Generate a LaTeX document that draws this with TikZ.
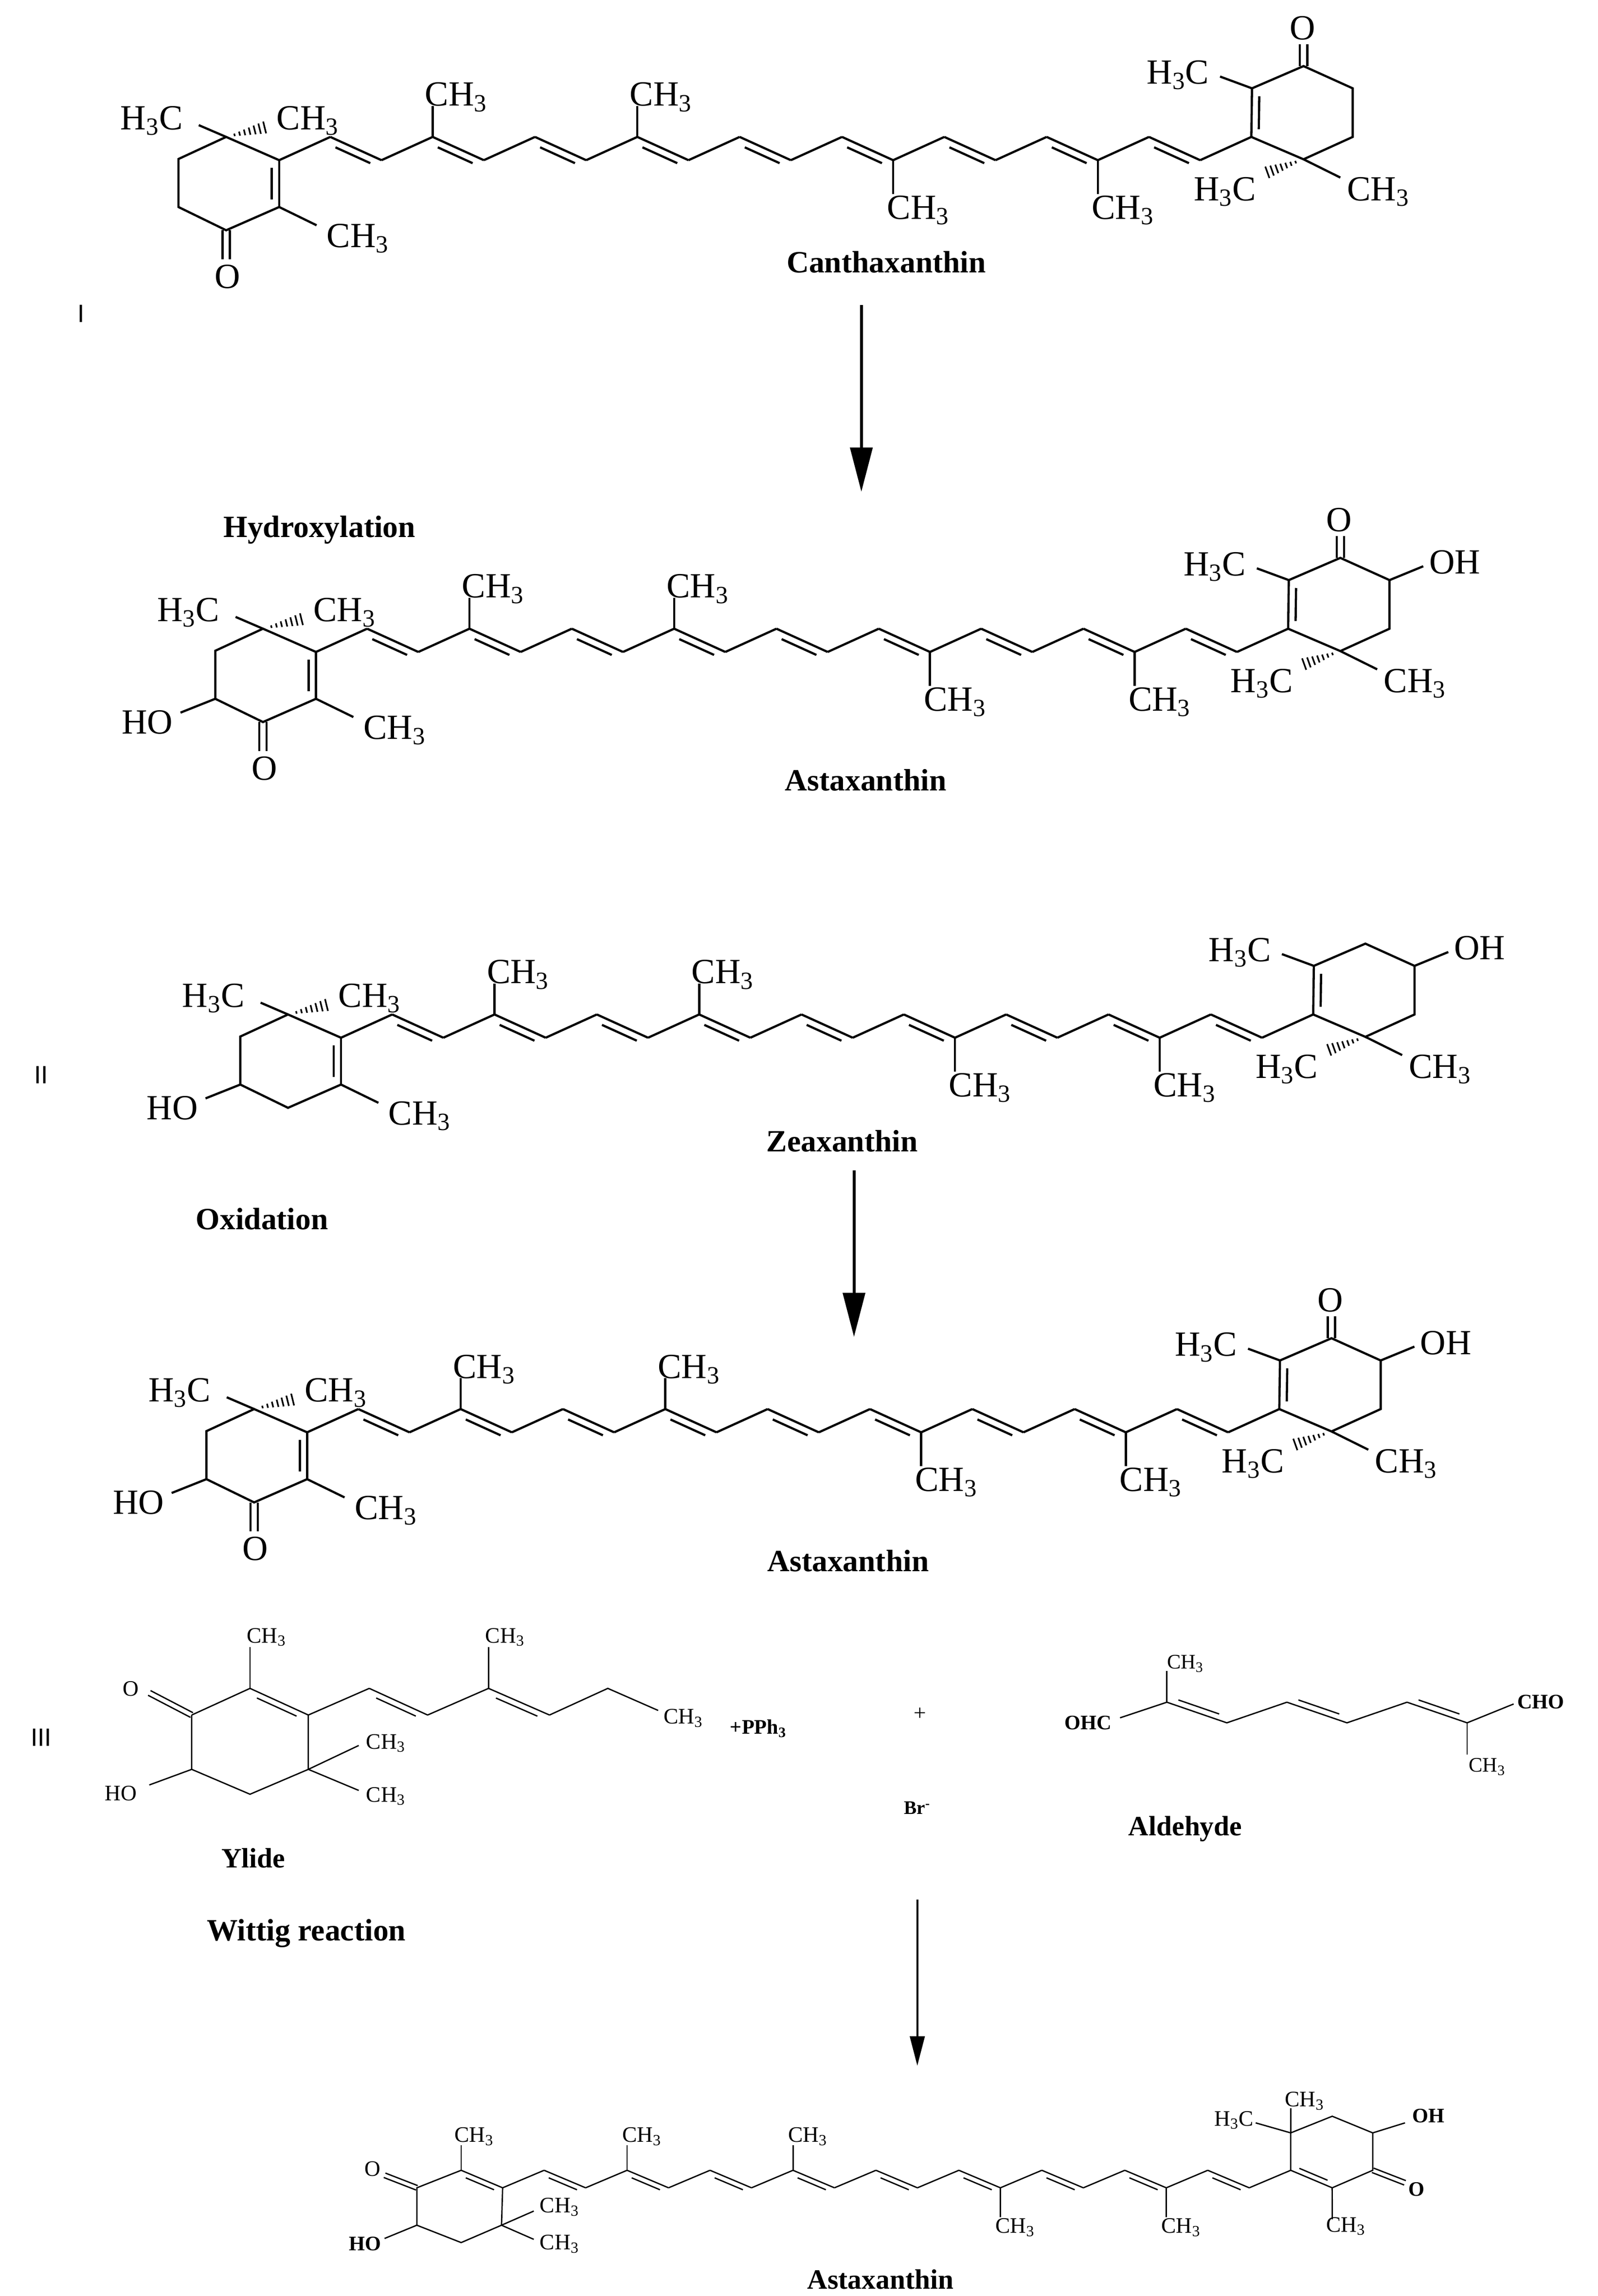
\documentclass[tikz,border=0pt]{standalone}
\usepackage{fontspec}
\setmainfont{Liberation Serif}
\newfontfamily\sansf{Liberation Sans}
\usetikzlibrary{calc,arrows.meta}
\newcommand\chm{CH\textsubscript{3}}
\newcommand\hcm{H\textsubscript{3}C}
% double bond: [side angle]{A}{B}{offset}
\newcommand\dbond[4][-90]{\draw (#2)--(#3); \draw ($(#2)!0.16!(#3)!#4!#1:(#3)$) -- ($(#3)!0.16!(#2)!#4!#1+180:(#2)$);}
\newcommand\hashb[2]{\foreach \t in {0.2,0.32,...,0.96}{\pgfmathsetmacro\hl{4.5*\t}\draw[line width=1.1pt] ($(#1)!\t!(#2)!\hl pt!90:(#2)$) -- ($(#1)!\t!(#2)!\hl pt!-90:(#2)$);}}
\tikzset{
 big/.style={line width=1.5pt},
 small/.style={line width=0.9pt},
 lbl/.style={inner sep=0pt,font=\fontsize{24}{24}\selectfont},
 slbl/.style={inner sep=0pt,font=\fontsize{15}{15}\selectfont},
 mname/.style={inner sep=0pt,font=\fontsize{21}{21}\selectfont\bfseries},
 roman/.style={inner sep=0pt,font=\fontsize{17}{17}\selectfont\sansf},
 rarrow/.style={line width=2pt,-{Triangle[length=30pt,width=15pt]}},
}
% #1 dx #2 dy #3 left keto #4 left OH #5 right keto #6 right OH #7 prefix
\newcommand\bigmol[7]{%
\begin{scope}[shift={(#1,#2)},big]
\coordinate (#7Lq) at (153.6,93); \coordinate (#7Lb) at (189.6,140.6);
\coordinate (#7Lco) at (153.6,156.4); \coordinate (#7Lc) at (121.2,140.6); \coordinate (#7Ld) at (121.2,108);
\foreach \k in {0,...,19}{\pgfmathsetmacro\xx{189.6+34.75*\k}\pgfmathsetmacro\yy{ifthenelse(mod(\k,2)==0,108.8,93)}\coordinate (#7c\k) at (\xx,\yy);}
\coordinate (#7B) at (850.3,60); \coordinate (#7C) at (885.3,44.9); \coordinate (#7D) at (918.7,60);
\coordinate (#7E) at (918.7,93); \coordinate (#7Q) at (885.3,108.2);
% left ring
\draw (#7c0)--(#7Lq)--(#7Ld)--(#7Lc)--(#7Lco)--(#7Lb);
\dbond{#7c0}{#7Lb}{5pt}
\coordinate (#7m1) at (135,85); \draw (#7Lq)--(#7m1); \node[lbl] (#7t1) at (103,82) {\hcm};
\coordinate (#7m2) at (182,86); \hashb{#7Lq}{#7m2}; \node[lbl] (#7t2) at (209,82) {\chm};
\coordinate (#7m3) at (215,153); \draw (#7Lb)--(#7m3); \node[lbl] (#7t3) at (243,162) {\chm};
\ifnum#3=1 \coordinate (#7m4) at (153.6,176); \draw ($(#7Lco)+(-2.5,0)$)--($(#7m4)+(-2.5,0)$) ($(#7Lco)+(2.5,0)$)--($(#7m4)+(2.5,0)$); \node[lbl] (#7t4) at (154.5,188) {O};\fi
\ifnum#4=1 \coordinate (#7m5) at (97.6,150); \draw (#7Lc)--(#7m5); \node[lbl] (#7t5) at (75,156.6) {HO};\fi
% chain
\foreach \k in {0,...,18}{\pgfmathtruncatemacro\n{\k+1}\ifodd\k\relax \dbond{#7c\k}{#7c\n}{5pt}\else\draw (#7c\k)--(#7c\n);\fi}
\foreach \k/\s in {3/a,7/b}{\draw (#7c\k)--++(0,-21); \node[lbl] (#7u\s) at ($(#7c\k)+(16,-27)$) {\chm};}
\foreach \k/\s in {12/a,16/b}{\draw (#7c\k)--++(0,23); \node[lbl] (#7d\s) at ($(#7c\k)+(17,34)$) {\chm};}
% right ring
\draw (#7B)--(#7C)--(#7D)--(#7E)--(#7Q)--(#7c19);
\dbond{#7c19}{#7B}{5pt}
\coordinate (#7m6) at (828.6,52); \draw (#7B)--(#7m6); \node[lbl] (#7t6) at (800,51) {\hcm};
\coordinate (#7m7) at (858.6,117.8); \hashb{#7Q}{#7m7}; \node[lbl] (#7t7) at (831.9,130.2) {\hcm};
\coordinate (#7m8) at (910.3,120.6); \draw (#7Q)--(#7m8); \node[lbl] (#7t8) at (936,130.2) {\chm};
\ifnum#5=1 \coordinate (#7m9) at (885.3,30); \draw ($(#7C)+(-2.5,0)$)--($(#7m9)+(-2.5,0)$) ($(#7C)+(2.5,0)$)--($(#7m9)+(2.5,0)$); \node[lbl] (#7t9) at (884.5,19) {O};\fi
\ifnum#6=1 \coordinate (#7m10) at (941.6,50.6); \draw (#7D)--(#7m10); \node[lbl] (#7t10) at (963,48) {OH};\fi
\end{scope}}
\begin{document}
\begin{tikzpicture}[x=1pt,y=-1pt]
\useasboundingbox[fill=white] (0,0) rectangle (1085,1559.4);
\bigmol{0}{0}{1}{0}{1}{0}{a}
\bigmol{25}{334}{1}{1}{1}{1}{b}
\bigmol{42}{596}{0}{1}{0}{1}{c}
\bigmol{19}{864}{1}{1}{1}{1}{d}
\node[mname] (n1) at (602,178) {Canthaxanthin};
\node[mname] (n2) at (588,530) {Astaxanthin};
\node[mname] (n3) at (572,775) {Zeaxanthin};
\node[mname] (n4) at (576,1060) {Astaxanthin};
\node[roman] (r1) at (55,213) {I};
\node[roman] (r2) at (28,730) {II};
\node[roman] (r3) at (28,1180) {III};
\node[mname] (h1) at (217,360) {Hydroxylation};
\node[mname] (h2) at (178,828) {Oxidation};
\node[mname] (h3) at (208,1313) {Wittig reaction};
\coordinate (a1s) at (585,207); \coordinate (a1e) at (585,334);
\coordinate (a2s) at (580,795); \coordinate (a2e) at (580,908);
\coordinate (a3s) at (623,1290); \coordinate (a3e) at (623,1403);
\draw[rarrow] (a1s)--(a1e);
\draw[rarrow] (a2s)--(a2e);
\draw[line width=1.3pt,-{Triangle[length=20pt,width=10pt]}] (a3s)--(a3e);
% ---- Ylide ----
\begin{scope}[small]
\coordinate (y1) at (130.2,1164.8); \coordinate (y2) at (169.8,1146.7); \coordinate (y3) at (209.4,1164.8);
\coordinate (y4) at (209.4,1201.7); \coordinate (y5) at (169.8,1218.6); \coordinate (y6) at (130.2,1201.7);
\draw (y1)--(y2) (y3)--(y4)--(y5)--(y6)--(y1);
\dbond{y2}{y3}{4pt}
\coordinate (yo) at (101.4,1149.8); \draw ($(y1)!1.8pt!90:(yo)$)--($(yo)!1.8pt!-90:(y1)$) ($(y1)!1.8pt!-90:(yo)$)--($(yo)!1.8pt!90:(y1)$);
\node[slbl] (yO) at (89,1147) {O};
\coordinate (ym1) at (169.8,1118.6); \draw (y2)--(ym1); \node[slbl] (yt1) at (181,1112) {\chm};
\coordinate (ym2) at (243.6,1185.5); \draw (y4)--(ym2); \node[slbl] (yt2) at (262,1184) {\chm};
\coordinate (ym3) at (243.6,1216); \draw (y4)--(ym3); \node[slbl] (yt3) at (262,1220) {\chm};
\coordinate (ym4) at (101.4,1212.3); \draw (y6)--(ym4); \node[slbl] (yt4) at (82,1218) {HO};
\coordinate (y7) at (250.8,1146.7); \coordinate (y8) at (290.4,1164.8); \coordinate (y9) at (331.8,1146.7);
\coordinate (y10) at (373.2,1164.8); \coordinate (y11) at (412.8,1146.7); \coordinate (y12) at (447,1161.7);
\draw (y3)--(y7) (y8)--(y9) (y10)--(y11)--(y12);
\dbond{y7}{y8}{4pt} \dbond{y9}{y10}{4pt}
\coordinate (ym5) at (331.8,1118.6); \draw (y9)--(ym5); \node[slbl] (yt5) at (343,1112) {\chm};
\node[slbl] (yt6) at (464,1167) {\chm};
\node[inner sep=0pt,font=\fontsize{14}{14}\selectfont\bfseries] (pph) at (515,1174) {+PPh\textsubscript{3}};
\end{scope}
\node[mname,font=\fontsize{19}{19}\selectfont\bfseries] (yl) at (172,1262) {Ylide};
\node[inner sep=0pt,font=\fontsize{15}{15}\selectfont] (plus) at (625,1164) {+};
\node[inner sep=0pt,font=\fontsize{13}{13}\selectfont\bfseries] (br) at (623,1228) {Br\textsuperscript{-}};
% ---- Aldehyde ----
\begin{scope}[small]
\coordinate (q1) at (792.5,1156.1); \coordinate (q2) at (833.2,1170.1); \coordinate (q3) at (874,1156.1);
\coordinate (q4) at (914.8,1170.1); \coordinate (q5) at (955.6,1156.1); \coordinate (q6) at (996.4,1170.1);
\dbond[90]{q1}{q2}{4pt} \draw (q2)--(q3); \dbond[90]{q3}{q4}{4pt} \draw (q4)--(q5); \dbond[90]{q5}{q6}{4pt}
\coordinate (qm1) at (792.5,1135); \draw (q1)--(qm1); \node[slbl,font=\fontsize{14}{14}\selectfont] (qt1) at (805,1130) {\chm};
\coordinate (qm2) at (760.7,1166.7); \draw (q1)--(qm2); \node[inner sep=0pt,font=\fontsize{14}{14}\selectfont\bfseries] (qt2) at (739,1170) {OHC};
\coordinate (qm3) at (996.4,1191.8); \draw (q6)--(qm3); \node[slbl,font=\fontsize{14}{14}\selectfont] (qt3) at (1010,1200) {\chm};
\coordinate (qm4) at (1028,1157.3); \draw (q6)--(qm4); \node[inner sep=0pt,anchor=west,font=\fontsize{14}{14}\selectfont\bfseries] (qt4) at (1030,1156) {CHO};
\end{scope}
\node[mname,font=\fontsize{19}{19}\selectfont\bfseries] (al) at (805,1242) {Aldehyde};
% ---- Final astaxanthin ----
\begin{scope}[small]
\foreach \j in {0,...,21}{\pgfmathsetmacro\xx{313.2+28.17*\j}\pgfmathsetmacro\yy{ifthenelse(mod(\j,2)==0,1474,1485.9)}\coordinate (f\j) at (\xx,\yy);}
\foreach \j in {0,...,20}{\pgfmathtruncatemacro\n{\j+1}\ifodd\j\relax\draw (f\j)--(f\n);\else\ifnum\j=20 \dbond[90]{f\j}{f\n}{3.5pt}\else\dbond{f\j}{f\n}{3.5pt}\fi\fi}
\coordinate (g1) at (283.1,1485.9); \coordinate (g4) at (340.6,1511.3); \coordinate (g5) at (313.2,1523.1); \coordinate (g6) at (283.1,1511.3);
\draw (f0)--(g1)--(g6)--(g5)--(g4)--(f1);
\coordinate (go) at (261.2,1477.4); \draw ($(g1)!1.6pt!90:(go)$)--($(go)!1.6pt!-90:(g1)$) ($(g1)!1.6pt!-90:(go)$)--($(go)!1.6pt!90:(g1)$);
\node[slbl] (gO) at (253,1473) {O};
\coordinate (gm1) at (313.2,1457); \draw (f0)--(gm1); \node[slbl] (gt1) at (322,1451) {\chm};
\coordinate (gm2) at (362.5,1501.7); \draw (g4)--(gm2); \node[slbl] (gt2) at (380,1499) {\chm};
\coordinate (gm3) at (362.5,1520.9); \draw (g4)--(gm3); \node[slbl] (gt3) at (380,1524) {\chm};
\coordinate (gm4) at (261.2,1520.3); \draw (g6)--(gm4); \node[inner sep=0pt,font=\fontsize{14}{14}\selectfont\bfseries] (gt4) at (248,1524) {HO};
\foreach \j/\s in {4/a,8/b}{\draw (f\j)--++(0,-17); \node[slbl] (fu\s) at ($(f\j)+(10,-23)$) {\chm};}
\foreach \j/\s in {13/a,17/b}{\draw (f\j)--++(0,20); \node[slbl] (fd\s) at ($(f\j)+(10,27)$) {\chm};}
\coordinate (hq) at (876.6,1448.6); \coordinate (h2) at (904.8,1437.3); \coordinate (h3) at (932.3,1448.6); \coordinate (h4) at (932.3,1474);
\draw (f20)--(hq)--(h2)--(h3)--(h4)--(f21);
\coordinate (hm1) at (852.8,1441.8); \draw (hq)--(hm1); \node[slbl] (ht1) at (838,1440) {\hcm};
\coordinate (hm2) at (876.6,1431.7); \draw (hq)--(hm2); \node[slbl] (ht2) at (886,1427) {\chm};
\coordinate (hm3) at (954.2,1441.8); \draw (h3)--(hm3); \node[inner sep=0pt,font=\fontsize{14}{14}\selectfont\bfseries] (ht3) at (970,1437) {OH};
\coordinate (hm4) at (954.2,1482.5); \draw ($(h4)!1.6pt!90:(hm4)$)--($(hm4)!1.6pt!-90:(h4)$) ($(h4)!1.6pt!-90:(hm4)$)--($(hm4)!1.6pt!90:(h4)$);
\node[inner sep=0pt,font=\fontsize{14}{14}\selectfont\bfseries] (hO) at (962,1487) {O};
\coordinate (hm5) at (904.8,1507.3); \draw (f21)--(hm5); \node[slbl] (ht5) at (914,1512) {\chm};
\end{scope}
\node[mname,font=\fontsize{19}{19}\selectfont\bfseries] (n5) at (598,1548) {Astaxanthin};
\end{tikzpicture}
\end{document}
